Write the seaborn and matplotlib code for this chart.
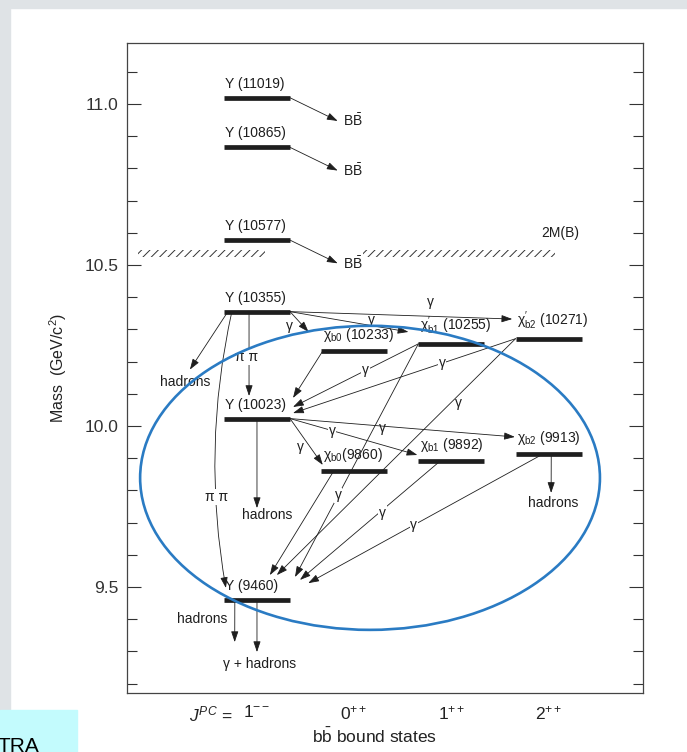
import numpy as np
import pandas as pd
import matplotlib
matplotlib.use("Agg")
import matplotlib.pyplot as plt
import seaborn as sns
from matplotlib.patches import Ellipse, Rectangle
from matplotlib.ticker import MultipleLocator, FormatStrFormatter

# Data: bottomonium (b b-bar) states

state_names = ["Y11019", "Y10865", "Y10577", "Y10355",
               "chib0_2P", "chib1_2P", "chib2_2P",
               "Y10023", "chib0_1P", "chib1_1P", "chib2_1P", "Y9460"]

state_labels = ["Υ (11019)", "Υ (10865)", "Υ (10577)", "Υ (10355)",
                r"χ$_{\mathrm{b0}}$ (10233)",
                r"χ${}^{\prime}_{\mathrm{b1}}$ (10255)",
                r"χ${}^{\prime}_{\mathrm{b2}}$ (10271)",
                "Υ (10023)",
                r"χ$_{\mathrm{b0}}$(9860)",
                r"χ$_{\mathrm{b1}}$ (9892)",
                r"χ$_{\mathrm{b2}}$ (9913)",
                "Υ (9460)"]

masses = [11.019, 10.865, 10.577, 10.355,
          10.233, 10.255, 10.271,
          10.023, 9.860, 9.892, 9.913, 9.460]

jpc_column = [0, 0, 0, 0, 1, 2, 3, 0, 1, 2, 3, 0]

jpc_labels = [r"$J^{PC}$ =", r"$1^{- -}$", r"$0^{+ +}$", r"$1^{+ +}$", r"$2^{+ +}$"]

threshold_2mb = 10.558

# transitions between states
trans_src = [3, 3, 3, 3, 3, 4, 5, 6, 5, 6, 7, 7, 7, 8, 9, 10]
trans_dst = [4, 5, 6, 7, 11, 7, 7, 7, 11, 11, 8, 9, 10, 11, 11, 11]
trans_emit = ["γ", "γ", "γ", "π π", "π π", "", "γ", "γ", "γ", "γ",
              "γ", "γ", "", "", "γ", "γ"]

# decays out of the diagram
decay_src = [0, 1, 2, 3, 7, 10, 11, 11]
decay_text = [r"B$\bar{\mathrm{B}}$"] * 3 + ["hadrons"] * 4 + ["γ + hadrons"]

# Layout (geometry only)

HW = 0.34  # half width of a level bar
ink = "#1e1e1e"

# src_frac, dst_frac, dst_dy, rad, label_t, label_dx, label_dy, boxed
trans_layout = [
    (1.0, -1.38, 0.059, 0.0, 0.50, -7, -3, False),
    (1.0, -1.30, 0.037, 0.0, 0.69, 0, 4, False),
    (1.0, -1.10, 0.061, 0.0, 0.63, 0, 10, False),
    (-0.24, -0.24, 0.070, 0.0, 0.54, -2, 0, True),
    (-0.76, -0.94, 0.037, 0.1, 0.67, -8, 0, True),
    (-0.95, 1.09, 0.064, 0.0, 0.50, 0, 0, False),
    (-1.0, 1.09, 0.036, 0.0, 0.42, 0, 0, True),
    (-1.0, 1.09, 0.017, 0.0, 0.33, 0, 0, True),
    (-1.0, 1.15, 0.071, 0.0, 0.65, 0, 0, True),
    (-1.0, 0.60, 0.077, 0.0, 0.27, 5, 0, False),
    (1.0, -0.95, 0.019, 0.0, 0.50, -4, -4, False),
    (1.0, -1.03, 0.018, 0.0, 0.33, 0, 0, True),
    (1.0, -1.02, 0.053, 0.0, 0.50, 0, 0, False),
    (-0.62, 0.39, 0.077, 0.0, 0.50, 0, 0, False),
    (-0.33, 1.30, 0.062, 0.0, 0.44, 3, 0, True),
    (-0.17, 1.55, 0.052, 0.0, 0.55, 0, 0, True),
]
extra_gamma = [(8, 0.36, 6, 0)]

# src_frac, end_dx, end_dy, text_dx, text_dy, ha
decay_layout = [
    (1.0, 0.83, -0.072, 0.88, -0.072, "left"),
    (1.0, 0.83, -0.072, 0.88, -0.072, "left"),
    (1.0, 0.83, -0.072, 0.88, -0.072, "left"),
    (-0.88, -0.69, -0.180, -0.74, -0.218, "center"),
    (0.0, 0.0, -0.278, 0.10, -0.299, "center"),
    (0.08, 0.026, -0.121, 0.046, -0.152, "center"),
    (-0.67, -0.229, -0.131, -0.566, -0.059, "center"),
    (0.0, 0.0, -0.162, 0.03, -0.199, "center"),
]

# Style

sns.set_style("ticks")
plt.rcParams["font.family"] = ["Liberation Sans", "DejaVu Sans"]
plt.rcParams["mathtext.fontset"] = "custom"
plt.rcParams["mathtext.rm"] = "Liberation Sans"
plt.rcParams["mathtext.it"] = "Liberation Sans:italic"
plt.rcParams["mathtext.bf"] = "Liberation Sans:bold"
plt.rcParams["hatch.linewidth"] = 0.7

fig = plt.figure(figsize=(6.87, 7.52), dpi=100)
fig.patch.set_facecolor("white")

# page background around the scanned figure
gray = "#dfe3e6"
fig.add_artist(Rectangle((0, 1 - 8 / 752), 1, 8 / 752, transform=fig.transFigure,
                         color=gray, zorder=-5))
fig.add_artist(Rectangle((0, 42 / 752), 10 / 687, 1, transform=fig.transFigure,
                         color=gray, zorder=-5))
fig.add_artist(Rectangle((0, 0), 77 / 687, 42 / 752, transform=fig.transFigure,
                         color="#c3fbfd", zorder=-5))
fig.text(-0.004, 1 - 737 / 752, "TRA", fontsize=15, va="top", ha="left", color="black")

ax = fig.add_axes([127 / 687, (752 - 693) / 752, (643 - 127) / 687, (693 - 43) / 752])

# Level bars

bars = pd.DataFrame({
    "state": np.repeat(state_names, 2),
    "x": [c + s * HW for c in jpc_column for s in (-1, 1)],
    "mass": np.repeat(masses, 2),
})

sns.lineplot(
    data=bars, x="x", y="mass", units="state", estimator=None, sort=False,
    color=ink, lw=3.4, legend=False, ax=ax, solid_capstyle="butt"
)

for lab, c, m in zip(state_labels, jpc_column, masses):
    ax.annotate(lab, xy=(c - HW, m), xytext=(1, 5), textcoords="offset points",
                ha="left", va="bottom", fontsize=10, color=ink)

# Transitions

arrow_kw = dict(arrowstyle="-|>,head_length=0.65,head_width=0.22", color=ink,
                lw=0.6, shrinkA=0, shrinkB=0, mutation_scale=10)


def point(i, frac, dy=0.0):
    return jpc_column[i] + frac * HW, masses[i] + dy


trans_lines = []
for s, d, emit, lay in zip(trans_src, trans_dst, trans_emit, trans_layout):
    sf, df_, ddy, rad, t, ldx, ldy, boxed = lay
    p0 = point(s, sf)
    p1 = point(d, df_, ddy)
    trans_lines.append((p0, p1))
    ax.annotate("", xy=p1, xytext=p0,
                arrowprops=dict(arrow_kw, connectionstyle=f"arc3,rad={rad}"))
    if emit:
        lx = p0[0] + t * (p1[0] - p0[0])
        ly = p0[1] + t * (p1[1] - p0[1])
        ax.annotate(emit, xy=(lx, ly), xytext=(ldx, ldy), textcoords="offset points",
                    ha="center", va="center", fontsize=10, color=ink,
                    bbox=dict(fc="white", ec="none", pad=0.6) if boxed else None)

for k, t, ldx, ldy in extra_gamma:
    p0, p1 = trans_lines[k]
    lx = p0[0] + t * (p1[0] - p0[0])
    ly = p0[1] + t * (p1[1] - p0[1])
    ax.annotate("γ", xy=(lx, ly), xytext=(ldx, ldy), textcoords="offset points",
                ha="center", va="center", fontsize=10, color=ink)

# Decays

for s, txt, lay in zip(decay_src, decay_text, decay_layout):
    sf, ex, ey, tx, ty, ha = lay
    c, m = jpc_column[s], masses[s]
    ax.annotate("", xy=(c + ex, m + ey), xytext=point(s, sf), arrowprops=arrow_kw)
    ax.text(c + tx, m + ty, txt, ha=ha, va="center", fontsize=10, color=ink)

# 2M(B) threshold

for x0, x1 in [(-1.224, 0.082), (1.09, 3.066)]:
    ax.fill_between([x0, x1], threshold_2mb - 0.033, threshold_2mb - 0.011,
                    facecolor="none", edgecolor="#333333", hatch="////", lw=0)
ax.text(3.12, threshold_2mb + 0.041, "2M(B)", ha="center", va="center",
        fontsize=10, color=ink)

# highlight ellipse
ax.add_patch(Ellipse((1.163, 9.839), width=4.73, height=0.944, fill=False,
                     ec="#2a7bc3", lw=1.9, zorder=5))

# Axes

ax.set_xlim(-1.337, 3.971)
ax.set_ylim(9.171, 11.189)

ax.yaxis.set_major_locator(MultipleLocator(0.5))
ax.yaxis.set_minor_locator(MultipleLocator(0.1))
ax.yaxis.set_major_formatter(FormatStrFormatter("%.1f"))
ax.tick_params(axis="y", which="both", direction="in", left=True, right=True,
               labelsize=12.5, colors="#333333", pad=6)
ax.tick_params(axis="y", which="major", length=10, width=0.8)
ax.tick_params(axis="y", which="minor", length=7, width=0.8)

ax.set_xticks([-0.48, 0, 1, 2, 3])
ax.set_xticklabels(jpc_labels)
ax.tick_params(axis="x", length=0, labelsize=12.5, pad=8, colors="#222222")

ax.set_xlabel(r"b$\bar{\mathrm{b}}$ bound states", fontsize=12.5, labelpad=2,
              x=0.48, color="#222222")
ax.set_ylabel(r"Mass  (GeV/c$^{2}$)", fontsize=11.5, labelpad=11, color="#222222")

for sp in ax.spines.values():
    sp.set_color("#444444")
    sp.set_linewidth(0.9)

plt.savefig("out.png", dpi=100)
plt.close()
